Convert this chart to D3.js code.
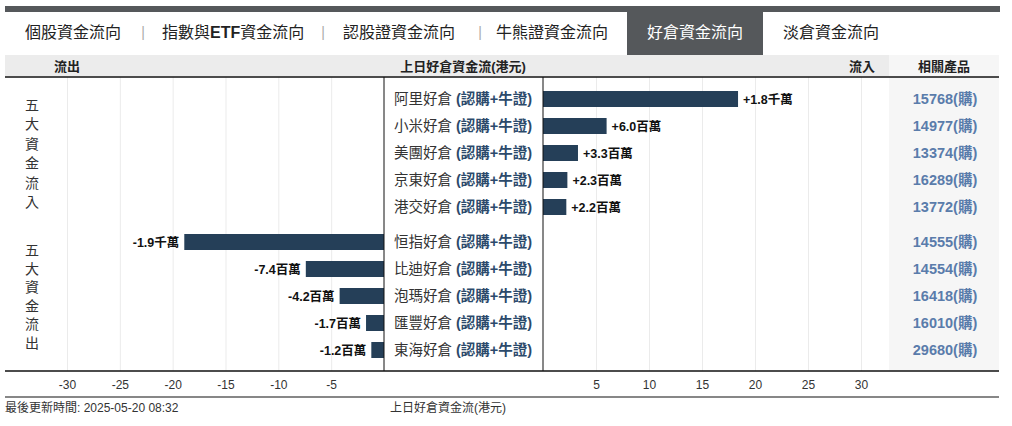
<!DOCTYPE html>
<html><head><meta charset="utf-8">
<script src="https://cdn.jsdelivr.net/npm/d3@7"></script>
<style>
body{margin:0;background:#fff;}
text{font-family:"Liberation Sans","Noto Sans CJK TC",sans-serif;}
</style></head>
<body><svg id="c" width="1012" height="426"></svg>
<script>
const tabs = ["個股資金流向","指數與ETF資金流向","認股證資金流向","牛熊證資金流向","好倉資金流向","淡倉資金流向"];
const activeTab = "好倉資金流向";
const inNames = ["阿里好倉","小米好倉","美團好倉","京東好倉","港交好倉"];
const inValues = [18.4, 6.0, 3.3, 2.3, 2.2];          // 百萬港元
const inCodes = ["15768","14977","13374","16289","13772"];
const outNames = ["恒指好倉","比迪好倉","泡瑪好倉","匯豐好倉","東海好倉"];
const outValues = [-18.9, -7.4, -4.2, -1.7, -1.2];   // 百萬港元
const outCodes = ["14555","14554","16418","16010","29680"];
const leftTicks = [-30,-25,-20,-15,-10,-5];
const rightTicks = [5,10,15,20,25,30];
const productSuffix = "(認購+牛證)";
const codeSuffix = "(購)";
const updateTime = "最後更新時間: 2025-05-20 08:32";
const axisTitle = "上日好倉資金流(港元)";

(function(){
const svg = d3.select("#c");
const yTop = 77, yBot = 371;
const barColor = "#253f58";

// top bar
svg.append("rect").attr("x",5).attr("y",6).attr("width",995).attr("height",6).attr("fill","#55585b");
// tabs
const tabX = [[25,120],[162,302],[343,455],[496,605],[627,763],[783,878]];
tabs.forEach((t,i)=>{
  const [a,b] = tabX[i];
  if (t===activeTab){
    svg.append("rect").attr("x",627).attr("y",12).attr("width",136).attr("height",43).attr("fill","#55585b");
  }
  const tx = svg.append("text").attr("x",t===activeTab?(a+b)/2:a).attr("y",38)
    .attr("text-anchor",t===activeTab?"middle":"start")
    .attr("font-size",16).attr("fill",t===activeTab?"#fff":"#222");
  if (t.includes("ETF")){
    const p = t.split("ETF");
    tx.append("tspan").text(p[0]);
    tx.append("tspan").attr("font-weight","bold").text("ETF");
    tx.append("tspan").text(p[1]);
  } else tx.text(t);
});
[143,323,480].forEach(x=>svg.append("text").attr("x",x).attr("y",37).attr("text-anchor","middle")
  .attr("font-size",14).attr("fill","#aaa").text("|"));

// header row
svg.append("rect").attr("x",5).attr("y",55).attr("width",884).attr("height",21).attr("fill","#ececec");
svg.append("rect").attr("x",889).attr("y",55).attr("width",110).attr("height",21).attr("fill","#f6f6f6");
const hdr = [["流出",67],[axisTitle,463],["流入",862],["相關產品",944]];
hdr.forEach(([t,x])=>svg.append("text").attr("x",x).attr("y",71).attr("text-anchor","middle")
  .attr("font-size",13).attr("font-weight","bold").attr("fill","#222").text(t));

// related product column bg
svg.append("rect").attr("x",889).attr("y",yTop).attr("width",110).attr("height",yBot-yTop).attr("fill","#f6f6f6");

// scales
const xl = d3.scaleLinear().domain([-30,0]).range([67,384]);
const xr = d3.scaleLinear().domain([0,30]).range([543,861]);
const yIn = d3.scalePoint().domain(inNames).range([99,207]);
const yOut = d3.scalePoint().domain(outNames).range([242,350]);
const bh = 16;

// gridlines via axes
const gl = svg.append("g").attr("transform",`translate(0,${yBot})`)
  .call(d3.axisBottom(xl).tickValues(leftTicks).tickSize(-(yBot-yTop)).tickFormat(""));
const gr = svg.append("g").attr("transform",`translate(0,${yBot})`)
  .call(d3.axisBottom(xr).tickValues(rightTicks).tickSize(-(yBot-yTop)).tickFormat(""));
[gl,gr].forEach(g=>{g.select(".domain").remove(); g.selectAll("line").attr("stroke","#ebebeb");});

// tick labels
const tf = d => String(d);
const tl = svg.append("g").attr("transform",`translate(0,${yBot})`)
  .call(d3.axisBottom(xl).tickValues(leftTicks).tickSize(0).tickPadding(9).tickFormat(tf));
const tr = svg.append("g").attr("transform",`translate(0,${yBot})`)
  .call(d3.axisBottom(xr).tickValues(rightTicks).tickSize(0).tickPadding(9).tickFormat(tf));
[tl,tr].forEach(g=>{g.select(".domain").remove(); g.selectAll("text").attr("font-size",12).attr("fill","#333")
  .attr("font-family",'"Liberation Sans",sans-serif');});

const fmt = v => {
  const s = v>0?"+":"-", a = Math.abs(v);
  return a>=10 ? s+(a/10).toFixed(1)+"千萬" : s+a.toFixed(1)+"百萬";
};

// inflow bars
inNames.forEach((n,i)=>{
  const v = inValues[i], y = yIn(n);
  svg.append("rect").attr("x",xr(0)).attr("y",y-bh/2).attr("width",xr(v)-xr(0)).attr("height",bh).attr("fill",barColor);
  svg.append("text").attr("x",xr(v)+5).attr("y",y+4.5).attr("font-size",12.5).attr("font-weight","bold")
    .attr("fill","#111").text(fmt(v));
});
outNames.forEach((n,i)=>{
  const v = outValues[i], y = yOut(n);
  svg.append("rect").attr("x",xl(v)).attr("y",y-bh/2).attr("width",xl(0)-xl(v)).attr("height",bh).attr("fill",barColor);
  svg.append("text").attr("x",xl(v)-5).attr("y",y+4.5).attr("text-anchor","end").attr("font-size",12.5).attr("font-weight","bold")
    .attr("fill","#111").text(fmt(v));
});

// product names + codes
function rowLabel(n, y, code){
  const t = svg.append("text").attr("x",394).attr("y",y+5).attr("font-size",14.5);
  t.append("tspan").attr("fill","#333").text(n+" ");
  t.append("tspan").attr("fill","#2c4a6b").attr("font-weight","bold").text(productSuffix);
  svg.append("text").attr("x",945).attr("y",y+5).attr("text-anchor","middle").attr("font-size",14.5)
    .attr("font-weight","bold").attr("fill","#5a7cab").text(code+codeSuffix);
}
inNames.forEach((n,i)=>rowLabel(n,yIn(n),inCodes[i]));
outNames.forEach((n,i)=>rowLabel(n,yOut(n),outCodes[i]));

// vertical section labels
function vlabel(str, y0, step){
  [...str].forEach((ch,i)=>svg.append("text").attr("x",32).attr("y",y0+i*step+5).attr("text-anchor","middle")
    .attr("font-size",14).attr("fill","#333").text(ch));
}
vlabel("五大資金流入",105,19.4);
vlabel("五大資金流出",250,18.6);

// frame lines
svg.append("line").attr("x1",5).attr("x2",999).attr("y1",yTop).attr("y2",yTop).attr("stroke","#111").attr("stroke-width",1.5);
svg.append("line").attr("x1",5).attr("x2",999).attr("y1",yBot).attr("y2",yBot).attr("stroke","#111").attr("stroke-width",1.5);
svg.append("line").attr("x1",xl(0)).attr("x2",xl(0)).attr("y1",yTop).attr("y2",yBot).attr("stroke","#111").attr("stroke-width",1);
svg.append("line").attr("x1",xr(0)).attr("x2",xr(0)).attr("y1",yTop).attr("y2",yBot).attr("stroke","#111").attr("stroke-width",1);
svg.append("line").attr("x1",5).attr("x2",999).attr("y1",397).attr("y2",397).attr("stroke","#111").attr("stroke-width",1.2);

// footer
svg.append("text").attr("x",5).attr("y",412).attr("font-size",12).attr("fill","#333").text(updateTime);
svg.append("text").attr("x",390).attr("y",412).attr("font-size",12).attr("fill","#333").text(axisTitle);
})();
</script></body></html>
